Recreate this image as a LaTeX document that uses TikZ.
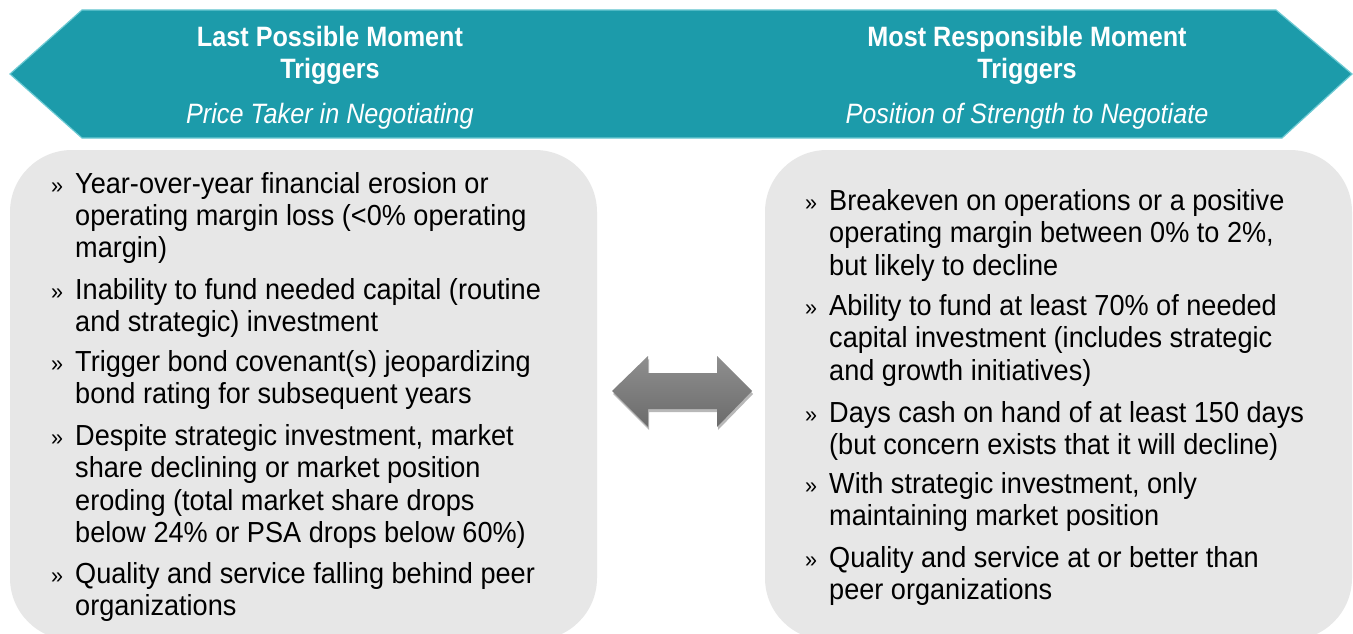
\documentclass[tikz,border=0pt]{standalone}
\usepackage{fontspec}
\setmainfont{Liberation Sans}
\newfontfamily\bodyfam[FakeStretch=0.935]{Liberation Sans}
\newfontfamily\headfam[FakeStretch=0.9]{Liberation Sans}
\usetikzlibrary{shadows}

\definecolor{bannerteal}{HTML}{1C9BAA}
\definecolor{banneredge}{HTML}{6CCAD3}
\definecolor{panelgray}{HTML}{E7E7E7}
\definecolor{arrowtop}{HTML}{8F8F8F}
\definecolor{arrowbottom}{HTML}{6B6B6B}

% one bullet paragraph: first baseline is the box baseline
\newcommand\bulletpara[1]{\parbox[t]{540pt}{\raggedright\leavevmode
  \llap{\fontsize{23}{23}\selectfont »\hspace{12pt}}#1}}
% banner heading: two bold lines and an italic subtitle
\newcommand\headblock[3]{\parbox[t]{520pt}{\centering
  \bfseries #1\\#2\\[13pt]\mdseries\itshape #3}}

\tikzset{
  banner/.style={fill=bannerteal, draw=banneredge, line width=1.2pt, line join=miter},
  panel/.style={fill=panelgray, draw=none, rounded corners=62pt},
  headtext/.style={anchor=base, inner sep=0pt, text=white,
    font=\headfam\fontsize{28}{32}\selectfont},
  itemtext/.style={anchor=base west, inner sep=0pt, text=black,
    font=\bodyfam\fontsize{29}{32.5}\selectfont},
  twoway/.style={top color=arrowtop, bottom color=arrowbottom, draw=none,
    drop shadow={shadow xshift=1pt, shadow yshift=-3pt, opacity=0.28, fill=black}},
}

\begin{document}
\begin{tikzpicture}[x=1pt, y=-1pt]
  \clip (0,0) rectangle (1353,634);
  \fill[white] (0,0) rectangle (1353,634);

  % double-headed banner across the top
  \path[banner] (10,74) -- (82,10) -- (1276,10) -- (1352,74) -- (1282,138)
    -- (82,138) -- cycle;

  \node[headtext] (lpm) at (330,47)
    {\headblock{Last Possible Moment}{Triggers}{Price Taker in Negotiating}};
  \node[headtext] (mrm) at (1027,47)
    {\headblock{Most Responsible Moment}{Triggers}{Position of Strength to Negotiate}};

  % grey panels
  \path[panel] (10,150) rectangle (597,640);
  \path[panel] (765,150) rectangle (1352,640);

  % two-way arrow between the panels
  \path[twoway] (612,391) -- (648,356) -- (648,373) -- (717,373) -- (717,356)
    -- (752,391) -- (717,427) -- (717,409) -- (648,409) -- (648,427) -- cycle;

  % left panel items
  \node[itemtext] (l1) at (75,193) {\bulletpara{Year-over-year financial erosion or\\
    operating margin loss (<0\% operating\\ margin)}};
  \node[itemtext] (l2) at (75,299) {\bulletpara{Inability to fund needed capital (routine\\
    and strategic) investment}};
  \node[itemtext] (l3) at (75,371) {\bulletpara{Trigger bond covenant(s) jeopardizing\\
    bond rating for subsequent years}};
  \node[itemtext] (l4) at (75,445) {\bulletpara{Despite strategic investment, market\\
    share declining or market position\\ eroding (total market share drops\\
    below 24\% or PSA drops below 60\%)}};
  \node[itemtext] (l5) at (75,583) {\bulletpara{Quality and service falling behind peer\\
    organizations}};

  % right panel items
  \node[itemtext] (r1) at (829,210) {\bulletpara{Breakeven on operations or a positive\\
    operating margin between 0\% to 2\%,\\ but likely to decline}};
  \node[itemtext] (r2) at (829,315) {\bulletpara{Ability to fund at least 70\% of needed\\
    capital investment (includes strategic\\ and growth initiatives)}};
  \node[itemtext] (r3) at (829,422) {\bulletpara{Days cash on hand of at least 150 days\\
    (but concern exists that it will decline)}};
  \node[itemtext] (r4) at (829,493) {\bulletpara{With strategic investment, only\\
    maintaining market position}};
  \node[itemtext] (r5) at (829,567) {\bulletpara{Quality and service at or better than\\
    peer organizations}};
\end{tikzpicture}
\end{document}
